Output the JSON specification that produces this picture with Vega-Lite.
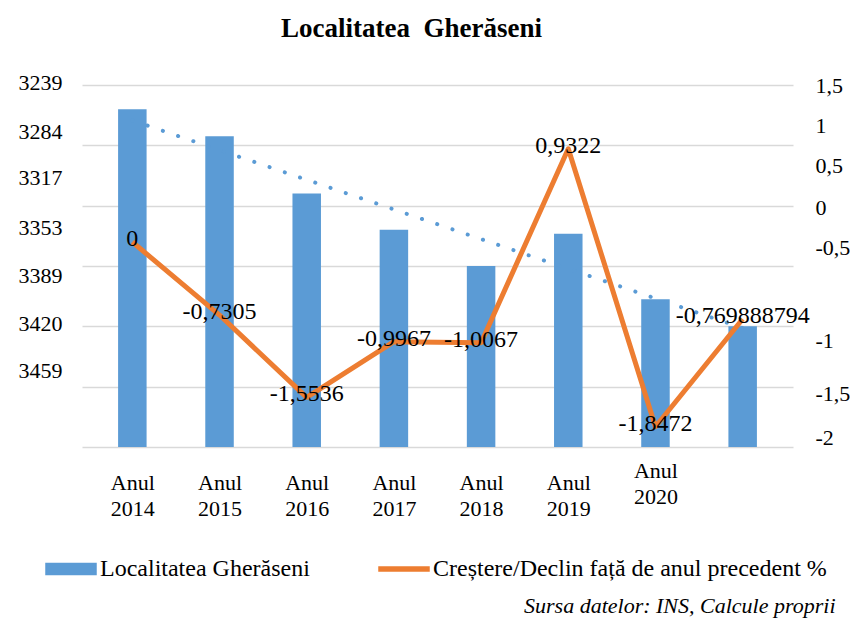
{
  "$schema": "https://vega.github.io/schema/vega-lite/v6.json",
  "autosize": "none",
  "width": 711,
  "height": 362,
  "padding": {"left": 82, "top": 85, "right": 62, "bottom": 172},
  "background": "white",
  "config": {
    "font": "Liberation Serif",
    "view": {"stroke": null},
    "text": {"font": "Liberation Serif"},
    "axis": {"labelFont": "Liberation Serif", "titleFont": "Liberation Serif"},
    "legend": {"labelFont": "Liberation Serif", "titleFont": "Liberation Serif"},
    "locale": {"number": {"decimal": ",", "thousands": ".", "grouping": [3], "currency": ["", ""], "minus": "-"}}
  },
  "title": {
    "text": "Localitatea\u00a0 Gherăseni",
    "font": "Liberation Serif",
    "fontSize": 27,
    "fontWeight": "bold",
    "color": "#000000",
    "anchor": "middle",
    "dx": -26,
    "offset": 28
  },
  "data": {
    "values": [
      {"year": 2014, "pop": 3456, "pct": 0},
      {"year": 2015, "pop": 3429, "pct": -0.7305},
      {"year": 2016, "pop": 3372, "pct": -1.5536},
      {"year": 2017, "pop": 3336, "pct": -0.9967},
      {"year": 2018, "pop": 3300, "pct": -1.0067},
      {"year": 2019, "pop": 3332, "pct": 0.9322},
      {"year": 2020, "pop": 3267, "pct": -1.8472},
      {"year": 2021, "pop": 3240, "pct": -0.769888794}
    ]
  },
  "encoding": {
    "x": {
      "field": "year",
      "type": "quantitative",
      "scale": {"domain": [2013.48, 2021.52], "nice": false, "zero": false},
      "axis": {
        "values": [2014, 2015, 2016, 2017, 2018, 2019, 2020],
        "labelExpr": "['Anul', '' + datum.value]",
        "labelFont": "Liberation Serif",
        "labelFontSize": 22,
        "labelLineHeight": 26,
        "labelColor": "#000000",
        "labelPadding": {"condition": {"test": "datum.value == 2020", "value": 13}, "value": 25},
        "labelFlush": false,
        "labelOverlap": false,
        "domain": false,
        "ticks": false,
        "tickSize": 0,
        "grid": false,
        "title": "Sursa datelor: INS, Calcule proprii",
        "titleFont": "Liberation Serif",
        "titleFontSize": 22,
        "titleFontStyle": "italic",
        "titleFontWeight": "normal",
        "titleColor": "#000000",
        "titleAlign": "right",
        "titleAnchor": null,
        "titleX": 753,
        "titleY": 158,
        "titleBaseline": "middle"
      }
    }
  },
  "layer": [
    {
      "layer": [
        {
          "mark": {"type": "bar", "size": 28.5, "color": "#5B9BD5", "clip": true},
          "encoding": {
            "y": {
              "field": "pop",
              "type": "quantitative",
              "scale": {"domain": [3120, 3480], "nice": false, "zero": false},
              "axis": {
                "orient": "left",
                "values": [3120, 3180, 3240, 3300, 3360, 3420, 3480],
                "labelExpr": "['3459','3420','3389','3353','3317','3284','3239'][indexof([3120,3180,3240,3300,3360,3420,3480], datum.value)]",
                "labelOffset": {"condition": [
                  {"test": "datum.value == 3480", "value": -3},
                  {"test": "datum.value == 3420", "value": -14},
                  {"test": "datum.value == 3360", "value": -28},
                  {"test": "datum.value == 3300", "value": -39},
                  {"test": "datum.value == 3240", "value": -51},
                  {"test": "datum.value == 3180", "value": -63}
                ], "value": -77},
                "labelFont": "Liberation Serif",
                "labelFontSize": 22,
                "labelColor": "#000000",
                "labelPadding": 20,
                "labelFlush": false,
                "labelOverlap": false,
                "labelBaseline": "middle",
                "domain": false,
                "ticks": false,
                "tickSize": 0,
                "grid": true,
                "gridColor": "#D9D9D9",
                "gridWidth": 1.3,
                "title": null
              }
            },
            "color": {
              "datum": "Localitatea Gherăseni",
              "type": "nominal",
              "scale": {"domain": ["Localitatea Gherăseni", "Creștere/Declin față de anul precedent %"], "range": ["#5B9BD5", "#ED7D31"]},
              "legend": {
                "orient": "none",
                "legendX": -37,
                "legendY": 458,
                "direction": "horizontal",
                "title": null,
                "labelFont": "Liberation Serif",
                "labelFontSize": 24,
                "labelColor": "#000000",
                "labelLimit": 600,
                "columnPadding": 66,
                "symbolSize": 2500,
                "symbolOffset": 0,
                "labelOffset": 3,
                "encode": {
                  "symbols": {
                    "update": {
                      "shape": [{"test": "datum.value === 'Localitatea Gherăseni'", "value": "M-1,-0.22H1V0.22H-1Z"}, {"value": "M-1,-0.08H1V0.08H-1Z"}],
                      "fill": [{"test": "datum.value === 'Localitatea Gherăseni'", "value": "#5B9BD5"}, {"value": "#ED7D31"}],
                      "stroke": {"value": "transparent"},
                      "opacity": {"value": 1}
                    }
                  },
                  "labels": {
                    "update": {
                      "font": {"value": "Liberation Serif"}
                    }
                  }
                }
              }
            }
          }
        },
        {
          "transform": [{"regression": "pop", "on": "year"}],
          "mark": {"type": "line", "color": "#5B9BD5", "strokeWidth": 4, "strokeDash": [0.1, 16], "strokeCap": "round"},
          "encoding": {
            "y": {"field": "pop", "type": "quantitative"}
          }
        }
      ]
    },
    {
      "layer": [
        {
          "mark": {"type": "line", "color": "#ED7D31", "strokeWidth": 5, "strokeJoin": "round"},
          "encoding": {
            "y": {
              "field": "pct",
              "type": "quantitative",
              "scale": {"domain": [-2.05, 1.57], "nice": false, "zero": false},
              "axis": {
                "orient": "right",
                "values": [1.57, 1.17, 0.77, 0.35, -0.05, -0.98, -1.51, -1.95],
                "labelExpr": "['1,5','1','0,5','0','-0,5','-1','-1,5','-2'][indexof([1.57,1.17,0.77,0.35,-0.05,-0.98,-1.51,-1.95], datum.value)]",
                "labelFont": "Liberation Serif",
                "labelFontSize": 22,
                "labelColor": "#000000",
                "labelPadding": 22,
                "labelFlush": false,
                "labelOverlap": false,
                "labelBaseline": "middle",
                "domain": false,
                "ticks": false,
                "tickSize": 0,
                "grid": false,
                "title": null
              }
            },
            "color": {"datum": "Creștere/Declin față de anul precedent %", "type": "nominal"}
          }
        },
        {
          "mark": {"type": "text", "font": "Liberation Serif", "fontSize": 24, "color": "#000000", "align": "center", "baseline": "middle", "dy": -3},
          "encoding": {
            "y": {"field": "pct", "type": "quantitative"},
            "text": {"field": "pct", "type": "quantitative", "format": ".9~g"}
          }
        }
      ]
    }
  ],
  "resolve": {"scale": {"y": "independent"}, "axis": {"y": "independent"}}
}
